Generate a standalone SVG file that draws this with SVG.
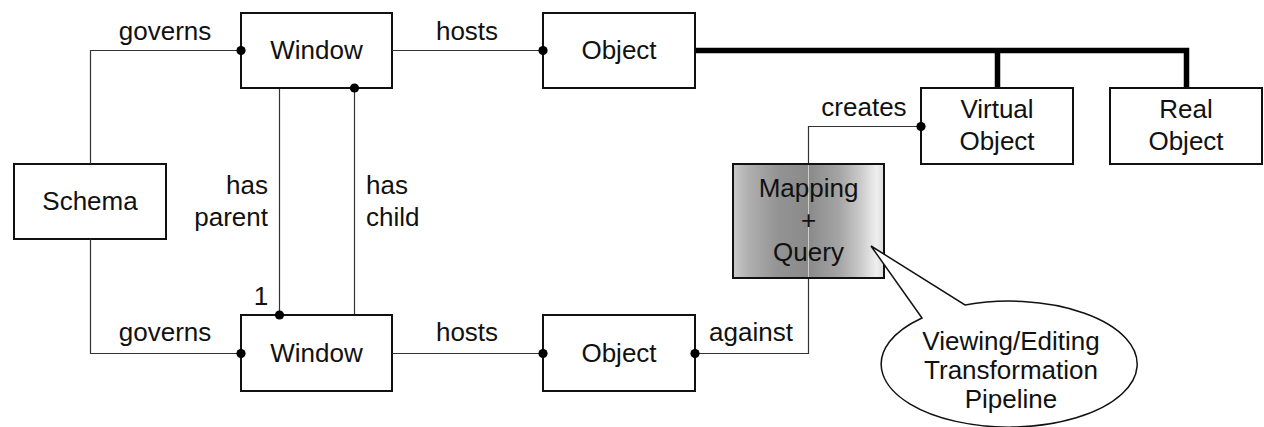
<svg xmlns="http://www.w3.org/2000/svg" width="1264" height="427" viewBox="0 0 1264 427">
<style>
.box{fill:#fff;stroke:#111;stroke-width:2}
.t{font-family:"Liberation Sans",Arial,sans-serif;font-size:26px;fill:#111;text-anchor:middle}
.l{font-family:"Liberation Sans",Arial,sans-serif;font-size:26px;fill:#111}
.c{fill:none;stroke:#333;stroke-width:1.2}
.thick{fill:none;stroke:#000;stroke-width:5.5;stroke-linejoin:miter}
.dot{fill:#000}
</style>
<defs>
<linearGradient id="g" x1="0" y1="0" x2="1" y2="0">
<stop offset="0" stop-color="#cacaca"/>
<stop offset="0.1" stop-color="#b0b0b0"/>
<stop offset="0.3" stop-color="#939393"/>
<stop offset="0.5" stop-color="#8a8a8a"/>
<stop offset="0.7" stop-color="#a4a4a4"/>
<stop offset="0.85" stop-color="#cccccc"/>
<stop offset="0.95" stop-color="#efefef"/>
<stop offset="1" stop-color="#dcdcdc"/>
</linearGradient>
</defs>
<g id="schema">
<rect class="box" x="14" y="164" width="152" height="75"/>
<text class="t" x="90" y="210">Schema</text>
</g>
<g id="window-top">
<rect class="box" x="241" y="13" width="151" height="75"/>
<text class="t" x="316.5" y="59">Window</text>
</g>
<g id="window-bottom">
<rect class="box" x="241" y="315" width="151" height="76"/>
<text class="t" x="316.5" y="362">Window</text>
</g>
<g id="object-top">
<rect class="box" x="543" y="13" width="152" height="75"/>
<text class="t" x="619" y="59">Object</text>
</g>
<g id="object-bottom">
<rect class="box" x="543" y="315" width="152" height="76"/>
<text class="t" x="619" y="362">Object</text>
</g>
<g id="virtual-object">
<rect class="box" x="921" y="88" width="152" height="76"/>
<text class="t" x="997" y="118">Virtual</text>
<text class="t" x="997" y="150">Object</text>
</g>
<g id="real-object">
<rect class="box" x="1110" y="88" width="152" height="76"/>
<text class="t" x="1186" y="118">Real</text>
<text class="t" x="1186" y="150">Object</text>
</g>
<g id="mapping-query">
<rect x="733" y="164" width="151" height="114" fill="url(#g)" stroke="#111" stroke-width="2"/>
<line x1="808.5" y1="165" x2="808.5" y2="277" stroke="#e8e8e8" stroke-width="1" opacity="0.7"/>
<text class="t" x="808.5" y="197">Mapping</text>
<text class="t" x="808.5" y="229">+</text>
<text class="t" x="808.5" y="261">Query</text>
</g>
<g id="callout">
<path d="M922,318 L871,246 L965,305 A128,63 0 1 1 922,318 Z" fill="#fff" stroke="#111" stroke-width="1.5" stroke-linejoin="miter"/>
<text class="t" x="1011" y="350">Viewing/Editing</text>
<text class="t" x="1011" y="379">Transformation</text>
<text class="t" x="1011" y="408">Pipeline</text>
</g>
<g id="connectors">
<path class="c" d="M90.5,164 V50.5 H241"/>
<path class="c" d="M90.5,239 V353.5 H241"/>
<path class="c" d="M392,50.5 H543"/>
<path class="c" d="M392,353.5 H543"/>
<path class="c" d="M279.5,89 V315"/>
<path class="c" d="M354.5,88 V314"/>
<path class="c" d="M808.5,163 V126.5 H921"/>
<path class="c" d="M695,353.5 H808.5 V279"/>
<path class="thick" d="M696,50.5 H1186.5 V87 M997.5,50.5 V87"/>
<circle class="dot" cx="241" cy="50.5" r="4.6"/>
<circle class="dot" cx="354.5" cy="88" r="4.6"/>
<circle class="dot" cx="543" cy="50.5" r="4.6"/>
<circle class="dot" cx="921" cy="126.5" r="4.6"/>
<circle class="dot" cx="279.5" cy="315" r="4.6"/>
<circle class="dot" cx="241" cy="353.5" r="4.6"/>
<circle class="dot" cx="543" cy="353.5" r="4.6"/>
<circle class="dot" cx="695" cy="353.5" r="4.6"/>
<text class="t" x="165" y="40">governs</text>
<text class="t" x="165" y="341">governs</text>
<text class="t" x="467" y="40">hosts</text>
<text class="t" x="467" y="341">hosts</text>
<text class="t" x="751" y="341">against</text>
<text class="t" x="864" y="116">creates</text>
<text class="l" x="268" y="194" text-anchor="end">has</text>
<text class="l" x="268" y="226" text-anchor="end">parent</text>
<text class="l" x="366" y="194">has</text>
<text class="l" x="366" y="226">child</text>
<text class="t" x="261" y="305">1</text>
</g>
</svg>
